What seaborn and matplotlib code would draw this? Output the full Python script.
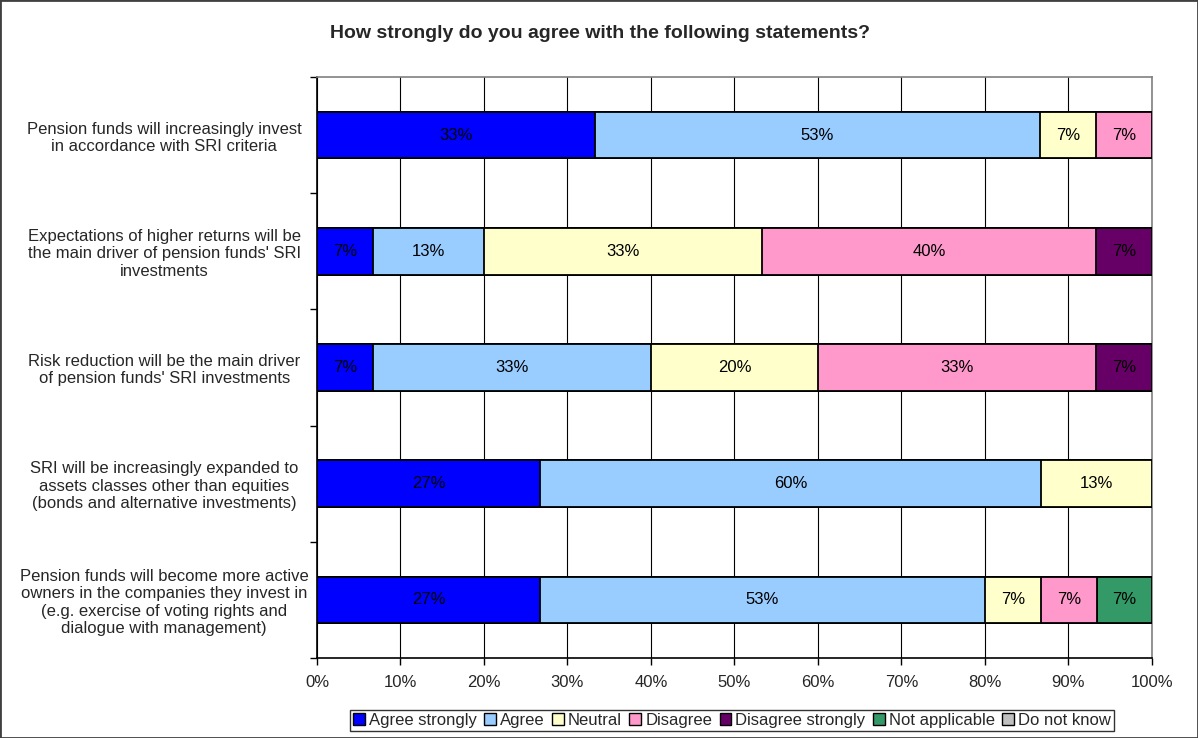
import matplotlib
matplotlib.use('Agg')
import matplotlib.pyplot as plt
import matplotlib.patches as mpatches
import pandas as pd
import seaborn as sns

sns.set_style('white')
plt.rcParams['font.family'] = ['Liberation Sans', 'DejaVu Sans']

title = 'How strongly do you agree with the following statements?'

statements = [
    "Pension funds will increasingly invest\nin accordance with SRI criteria",
    "Expectations of higher returns will be\nthe main driver of pension funds' SRI\ninvestments",
    "Risk reduction will be the main driver\nof pension funds' SRI investments",
    "SRI will be increasingly expanded to\nassets classes other than equities\n(bonds and alternative investments)",
    "Pension funds will become more active\nowners in the companies they invest in\n(e.g. exercise of voting rights and\ndialogue with management)",
]
answers = ['Agree strongly', 'Agree', 'Neutral', 'Disagree',
           'Disagree strongly', 'Not applicable', 'Do not know']
colors = ['#0000FF', '#99CCFF', '#FFFFCC', '#FF99CC', '#660066', '#339966', '#C0C0C0']

# share of respondents in %, one list per answer, statements in order top to bottom
agree_strongly = [33.3, 6.7, 6.7, 26.7, 26.7]
agree = [53.3, 13.3, 33.3, 60.0, 53.3]
neutral = [6.7, 33.3, 20.0, 13.3, 6.7]
disagree = [6.7, 40.0, 33.3, 0.0, 6.7]
disagree_strongly = [0.0, 6.7, 6.7, 0.0, 0.0]
not_applicable = [0.0, 0.0, 0.0, 0.0, 6.6]
do_not_know = [0.0, 0.0, 0.0, 0.0, 0.0]

df = pd.DataFrame({
    'Statement': statements,
    'Agree strongly': agree_strongly,
    'Agree': agree,
    'Neutral': neutral,
    'Disagree': disagree,
    'Disagree strongly': disagree_strongly,
    'Not applicable': not_applicable,
    'Do not know': do_not_know,
})
cum = df[answers].cumsum(axis=1)
cum['Statement'] = statements

fig = plt.figure(figsize=(11.98, 7.38), dpi=100)
ax = fig.add_axes([0.2646, 0.1084, 0.6970, 0.7873])

# stacked bars: draw cumulative totals from the last answer to the first
for ans, col in reversed(list(zip(answers, colors))):
    sns.barplot(data=cum, x=ans, y='Statement', order=statements, color=col,
                saturation=1, edgecolor='black', linewidth=1.3, width=0.4,
                errorbar=None, ax=ax, zorder=3)

# percentage labels in the middle of each segment
for i in range(len(statements)):
    for ans in answers:
        v = df.loc[i, ans]
        if v > 0:
            ax.text(cum.loc[i, ans] - v / 2, i, f'{round(v)}%', ha='center', va='center',
                    fontsize=12, color='black', zorder=4)

ax.set_xlim(0, 100)
ax.set_ylim(4.5, -0.5)
ax.set_xticks(range(0, 101, 10))
ax.set_xticklabels([f'{t}%' for t in range(0, 101, 10)], fontsize=12)
ax.xaxis.grid(True, color='black', linewidth=0.8)
ax.yaxis.grid(False)
ax.set_axisbelow(True)
ax.set_xlabel('')
ax.set_ylabel('')

ax.set_yticks(range(len(statements)))
ax.set_yticklabels(statements, ha='center', multialignment='center', fontsize=12)
ax.set_yticks([i - 0.5 for i in range(len(statements) + 1)], minor=True)
ax.tick_params(axis='y', which='major', length=0, pad=110, left=True)
ax.tick_params(axis='y', which='minor', length=5, width=1, direction='out', color='black', left=True)
ax.tick_params(axis='x', which='major', length=5, width=1, direction='out', color='black',
               bottom=True, pad=7)

for side in ['left', 'bottom']:
    ax.spines[side].set_color('black')
    ax.spines[side].set_linewidth(1.2)
for side in ['top', 'right']:
    ax.spines[side].set_color('#808080')
    ax.spines[side].set_linewidth(1.2)

fig.text(0.501, 0.955, title, ha='center', va='center', fontweight='bold', fontsize=14)

handles = [mpatches.Patch(facecolor=c, edgecolor='black', label=a) for a, c in zip(answers, colors)]
leg = fig.legend(handles=handles, ncol=7, loc='center', bbox_to_anchor=(0.611, 0.0235),
                 frameon=True, fancybox=False, edgecolor='black', fontsize=12,
                 handlelength=0.7, handleheight=0.7, handletextpad=0.25,
                 columnspacing=0.45, borderpad=0.2, borderaxespad=0)
leg.get_frame().set_linewidth(1)

fig.add_artist(mpatches.Rectangle((0, 0), 1, 1, transform=fig.transFigure, fill=False,
                                  edgecolor='#404040', linewidth=2))

fig.savefig('out.png', dpi=100)
